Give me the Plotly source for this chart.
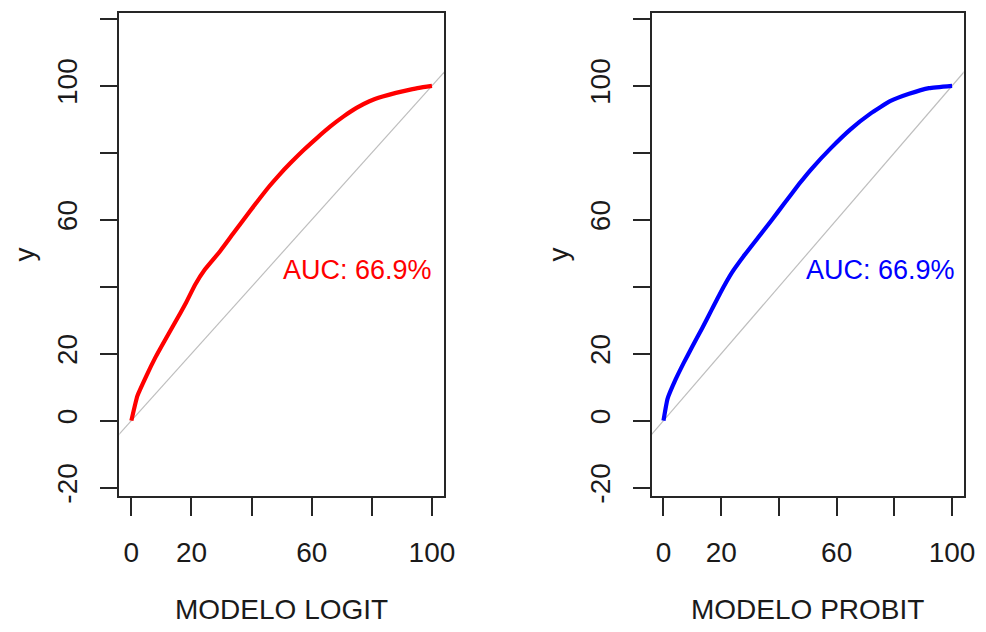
import plotly.graph_objects as go

# ROC curves (1 - especificidad vs sensibilidad, in %)
LOGIT_X = [0, 2.0, 5.0, 8.0, 11.4, 14.7, 18.0, 21.2, 24.5, 29.5, 33.8, 39.3, 45.9,
           49.0, 53.0, 57.4, 61.7, 66.1, 70.5, 74.9, 79.2, 83.6, 88.0, 92.4, 95.7, 100]
LOGIT_Y = [0, 7.4, 13.4, 18.9, 24.4, 29.6, 34.9, 40.6, 45.2, 50.6, 55.8, 62.4, 70.0,
           73.2, 77.0, 80.9, 84.4, 87.8, 90.8, 93.4, 95.4, 96.8, 97.9, 98.8, 99.4, 100]

PROBIT_X = [0, 1.4, 4.2, 7.1, 9.9, 13.4, 16.8, 19.6, 23.7, 28.2, 32.8, 37.4, 41.9,
            47.1, 51.1, 58.0, 64.8, 71.7, 78.5, 85.1, 92.0, 100]
PROBIT_Y = [0, 6.5, 12.3, 17.4, 22.0, 27.6, 33.3, 38.0, 44.2, 49.6, 54.7, 59.8, 64.9,
            70.8, 75.0, 81.4, 87.0, 91.7, 95.4, 97.6, 99.3, 100]

DIAG = [-10, 110]  # abline(0, 1)

AUC_TEXT = "AUC: 66.9%"
AUC_POS = (75.3, 45.0)

X_TICKS = [0, 20, 40, 60, 80, 100]
X_LABELS = ["0", "20", "", "60", "", "100"]
Y_TICKS = [-20, 0, 20, 40, 60, 80, 100, 120]
Y_LABELS = ["-20", "0", "20", "", "60", "", "100", ""]

# positions below are in pixels of the 986x632 page
W, H = 986, 632
FONT = "Liberation Sans, Arial, sans-serif"
AX = "#262626"

panels = [
    dict(x=LOGIT_X, y=LOGIT_Y, color="#FF0000", title="MODELO LOGIT", dom=(120.7, 449.0), ylab=25),
    dict(x=PROBIT_X, y=PROBIT_Y, color="#0000FF", title="MODELO PROBIT", dom=(659.3, 974.5), ylab=565),
]

fig = go.Figure()
annotations = []
y_dom = [1 - 502 / H, 1 - 13 / H]

for i, p in enumerate(panels, start=1):
    xa = "x" if i == 1 else f"x{i}"
    ya = "y" if i == 1 else f"y{i}"
    fig.add_trace(go.Scatter(x=DIAG, y=DIAG, mode="lines", xaxis=xa, yaxis=ya,
                             line=dict(color="#BEBEBE", width=1.2), hoverinfo="skip"))
    fig.add_trace(go.Scatter(x=p["x"], y=p["y"], mode="lines", xaxis=xa, yaxis=ya,
                             line=dict(color=p["color"], width=4.2, shape="spline",
                                       smoothing=0.4)))

    common = dict(showline=True, mirror=True, linecolor=AX, linewidth=2, showgrid=False,
                  zeroline=False, ticks="outside", tickcolor=AX, tickwidth=2,
                  tickfont=dict(family=FONT, size=28, color="#1a1a1a"))
    fig.update_layout(**{
        ("xaxis" if i == 1 else f"xaxis{i}"): dict(
            common, domain=[p["dom"][0] / W, p["dom"][1] / W], range=[-4, 104],
            anchor=ya, tickvals=X_TICKS, ticktext=X_LABELS, ticklen=18,
            ticklabelstandoff=13),
        ("yaxis" if i == 1 else f"yaxis{i}"): dict(
            common, domain=y_dom, range=[-22.4, 121.8], anchor=xa,
            tickvals=Y_TICKS, ticktext=Y_LABELS, ticklen=17, tickangle=-90,
            ticklabelstandoff=12),
    })

    annotations.append(dict(text=AUC_TEXT, x=AUC_POS[0], y=AUC_POS[1], xref=xa, yref=ya,
                            xanchor="center", yanchor="middle", showarrow=False,
                            font=dict(family=FONT, size=27, color=p["color"])))
    annotations.append(dict(text=p["title"], x=(p["dom"][0] + p["dom"][1]) / 2 / W,
                            y=1 - 617 / H, xref="paper", yref="paper", showarrow=False,
                            xanchor="center", yanchor="middle",
                            font=dict(family=FONT, size=28, color="#1a1a1a")))
    annotations.append(dict(text="y", x=p["ylab"] / W, y=1 - 258 / H, xref="paper",
                            yref="paper", showarrow=False, textangle=-90,
                            xanchor="center", yanchor="middle",
                            font=dict(family=FONT, size=28, color="#1a1a1a")))

fig.update_layout(
    width=W, height=H,
    margin=dict(l=0, r=0, t=0, b=0),
    paper_bgcolor="white", plot_bgcolor="white",
    showlegend=False,
    annotations=annotations,
)

fig.write_html(
    "out.html",
    config={"displayModeBar": False},
    post_script="document.body.style.margin='0';"
                "document.body.style.overflow='hidden';"
                "document.documentElement.style.overflow='hidden';",
)
